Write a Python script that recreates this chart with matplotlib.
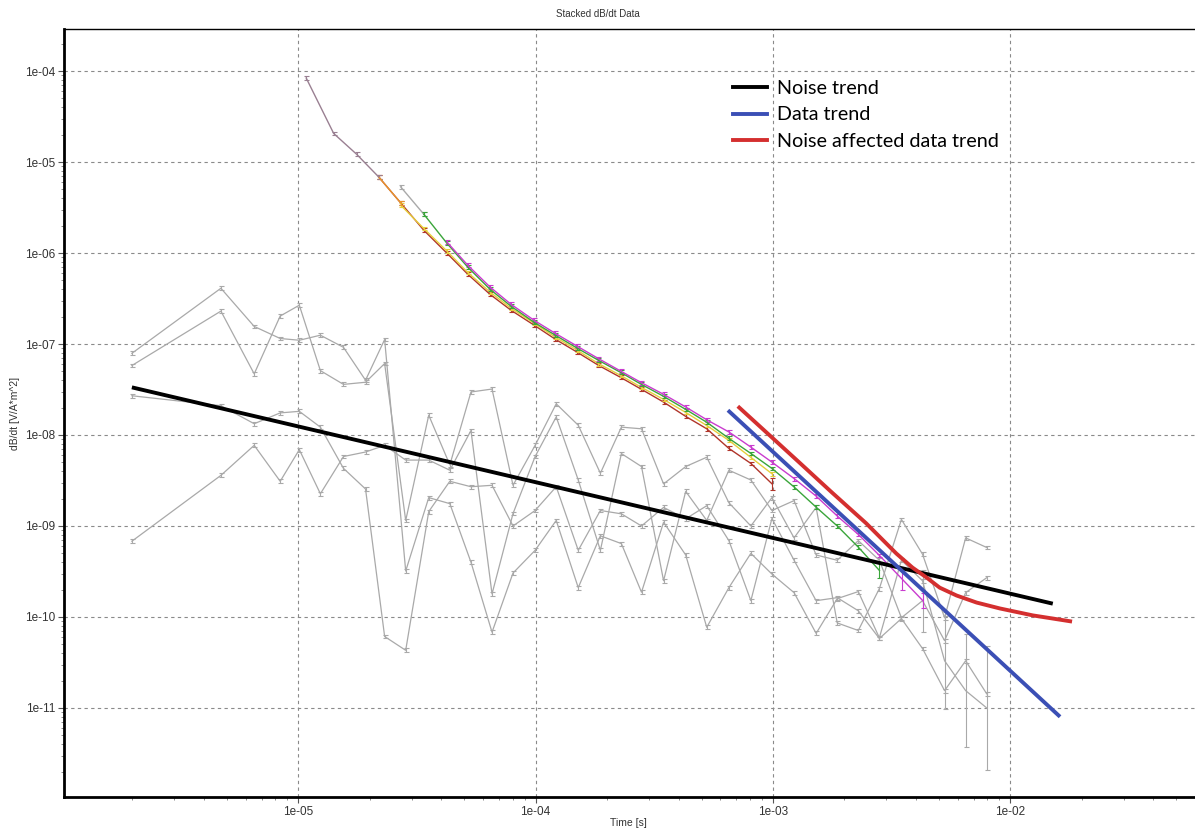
import numpy as np
import matplotlib
matplotlib.use("Agg")
import matplotlib.pyplot as plt
from matplotlib.lines import Line2D
from matplotlib.ticker import LogLocator, FixedLocator, FuncFormatter, NullFormatter

# gate times of the four noise soundings [s]
noise_times = [1.99e-6, 4.72e-6, 6.52e-6, 8.39e-6, 1.01e-5, 1.239e-5, 1.55e-5, 1.92e-5,
               2.311e-5, 2.835e-5, 3.545e-5, 4.35e-5, 5.34e-5, 6.55e-5, 8.03e-5, 9.95e-5,
               1.221e-4, 1.512e-4, 1.874e-4, 2.298e-4, 2.793e-4, 3.46e-4, 4.288e-4, 5.26e-4,
               6.52e-4, 8.07e-4, 9.9e-4, 1.227e-3, 1.52e-3, 1.865e-3, 2.288e-3, 2.807e-3,
               3.477e-3, 4.266e-3, 5.285e-3, 6.483e-3, 7.955e-3]

noise_a = [7.9e-8, 4.1e-7, 1.56e-7, 1.15e-7, 1.10e-7, 1.25e-7, 9.2e-8, 4.0e-8, 1.12e-7,
           3.2e-10, 2.05e-9, 1.76e-9, 4.0e-10, 6.8e-11, 3.04e-10, 5.4e-10, 1.15e-9, 2.1e-10,
           7.8e-10, 6.4e-10, 1.87e-10, 1.10e-9, 4.8e-10, 7.7e-11, 2.1e-10, 5.0e-10, 2.96e-10,
           1.85e-10, 6.6e-11, 1.59e-10, 1.90e-10, 5.9e-11, 4.2e-10, 2.5e-10, 3.3e-11,
           1.55e-11, 1.0e-11]
noise_b = [5.8e-8, 2.3e-7, 4.7e-8, 2.03e-7, 2.67e-7, 5.1e-8, 3.6e-8, 3.8e-8, 6.1e-8,
           1.15e-9, 1.65e-8, 4.7e-9, 2.97e-8, 3.2e-8, 2.8e-9, 7.7e-9, 2.2e-8, 1.28e-8,
           3.8e-9, 1.22e-8, 1.17e-8, 2.9e-9, 4.5e-9, 5.7e-9, 1.8e-9, 1.0e-9, 2.05e-9,
           7.4e-10, 1.6e-9, 8.6e-11, 7.1e-11, 2.05e-10, 1.18e-9, 4.9e-10, 9.8e-11,
           7.4e-10, 5.8e-10]
noise_c = [2.7e-8, 2.1e-8, 1.33e-8, 1.75e-8, 1.82e-8, 1.22e-8, 4.3e-9, 2.55e-9, 6.1e-11,
           4.3e-11, 1.44e-9, 3.1e-9, 2.7e-9, 2.8e-9, 1.0e-9, 1.48e-9, 2.7e-9, 5.4e-10,
           1.48e-9, 1.36e-9, 1.0e-9, 1.6e-9, 1.2e-9, 1.67e-9, 6.9e-10, 1.51e-10, 1.21e-9,
           4.2e-10, 1.51e-10, 1.63e-10, 1.17e-10, 5.8e-11, 9.6e-11, 4.5e-11, 1.55e-11,
           3.3e-11, 1.43e-11]
noise_d = [6.8e-10, 3.6e-9, 7.7e-9, 3.1e-9, 6.9e-9, 2.26e-9, 5.8e-9, 6.5e-9, 7.7e-9,
           5.3e-9, 5.3e-9, 4.1e-9, 1.12e-8, 1.79e-10, 1.37e-9, 5.8e-9, 1.58e-8, 3.2e-9,
           5.4e-10, 6.25e-9, 4.5e-9, 2.5e-10, 2.4e-9, 1.15e-9, 4.1e-9, 3.2e-9, 1.48e-9,
           1.9e-9, 4.8e-10, 4.2e-10, 6.9e-10, 4.2e-10, 9.8e-11, 1.51e-10, 5.5e-11,
           1.85e-10, 2.7e-10]
# wide error bars on the late gates: {gate index: relative error}
noise_big_err = {"a": {34: 2.4, 35: 3.2, 36: 3.8}, "d": {33: 1.2}}

# gate times of the stacked decays [s]
decay_times = [1.08e-5, 1.41e-5, 1.76e-5, 2.18e-5, 2.70e-5, 3.38e-5, 4.23e-5, 5.18e-5,
               6.42e-5, 7.88e-5, 9.86e-5, 1.21e-4, 1.50e-4, 1.84e-4, 2.28e-4, 2.79e-4,
               3.46e-4, 4.29e-4, 5.26e-4, 6.52e-4, 8.07e-4, 9.90e-4, 1.23e-3, 1.52e-3,
               1.87e-3, 2.29e-3, 2.81e-3, 3.48e-3, 4.27e-3]

# (first gate index, values)
decay_early = (0, [8.38e-5, 2.06e-5, 1.22e-5, 6.87e-6])
decay_gray = (4, [5.34e-6, 2.67e-6])
decay_orange = (3, [6.87e-6, 3.56e-6])
decay_darkred = (3, [6.87e-6, 3.56e-6, 1.78e-6, 9.95e-7, 5.84e-7, 3.52e-7, 2.35e-7, 1.61e-7,
                     1.13e-7, 8.10e-8, 5.83e-8, 4.30e-8, 3.18e-8, 2.30e-8, 1.60e-8, 1.17e-8,
                     7.12e-9, 4.87e-9, 2.91e-9])
decay_yellow = (4, [3.36e-6, 1.86e-6, 1.05e-6, 6.10e-7, 3.73e-7, 2.47e-7, 1.69e-7, 1.19e-7,
                    8.52e-8, 6.09e-8, 4.52e-8, 3.34e-8, 2.46e-8, 1.77e-8, 1.27e-8, 8.72e-9,
                    5.67e-9, 3.75e-9])
decay_green = (5, [2.67e-6, 1.28e-6, 6.98e-7, 4.00e-7, 2.60e-7, 1.73e-7, 1.25e-7, 8.97e-8,
                   6.62e-8, 4.88e-8, 3.60e-8, 2.66e-8, 1.91e-8, 1.38e-8, 9.18e-9, 6.27e-9,
                   4.29e-9, 2.67e-9, 1.61e-9, 9.95e-10, 5.84e-10, 3.24e-10])
decay_magenta = (6, [1.32e-6, 7.34e-7, 4.24e-7, 2.73e-7, 1.82e-7, 1.31e-7, 9.43e-8, 6.91e-8,
                     5.05e-8, 3.76e-8, 2.80e-8, 2.03e-8, 1.47e-8, 1.08e-8, 7.36e-9, 5.03e-9,
                     3.31e-9, 2.13e-9, 1.28e-9, 8.06e-10, 4.74e-10, 2.65e-10, 1.52e-10])
decay_big_err = {"darkred": {18: 0.16}, "green": {21: 0.22}, "magenta": {21: 0.35, 22: 0.22}}

# trend lines
noise_trend_t = [1.99e-6, 1.51e-2]
noise_trend_v = [3.34e-8, 1.40e-10]
data_trend_t = [6.46e-4, 1.62e-2]
data_trend_v = [1.87e-8, 8.0e-12]
affected_t = [7.11e-4, 1.29e-3, 1.77e-3, 2.47e-3, 3.31e-3, 3.87e-3, 4.44e-3, 5.04e-3,
              5.94e-3, 7.21e-3, 9.04e-3, 1.245e-2, 1.82e-2]
affected_v = [2.07e-8, 5.0e-9, 2.34e-9, 1.07e-9, 4.98e-10, 3.49e-10, 2.71e-10, 2.10e-10,
              1.72e-10, 1.44e-10, 1.24e-10, 1.04e-10, 8.9e-11]

# labelled decades
x_ticks = [1e-5, 1e-4, 1e-3, 1e-2]
y_ticks = [1e-11, 1e-10, 1e-9, 1e-8, 1e-7, 1e-6, 1e-5, 1e-4]

GRAY = "#a9a9a9"
SMALL_ERR = 0.05


def draw_sounding(ax, t, v, color, big=None, lw=0.9, zorder=2):
    t = np.asarray(t, dtype=float)
    v = np.asarray(v, dtype=float)
    rel = np.full(len(v), SMALL_ERR)
    for i, e in (big or {}).items():
        rel[i] = e
    f = 1.0 + rel
    ax.errorbar(t, v, yerr=[v - v / f, v * f - v], color=color, lw=lw,
                elinewidth=0.8, capsize=1.8, capthick=0.8, zorder=zorder)


def draw_decay(ax, series, color, big=None, zorder=3):
    start, vals = series
    t = decay_times[start:start + len(vals)]
    draw_sounding(ax, t, vals, color, big=big, lw=1.0, zorder=zorder)


fig = plt.figure(figsize=(11.95, 8.31), dpi=100)
ax = fig.add_axes([64 / 1195, 34 / 831, 1 - 64 / 1195, 768 / 831])
ax.set_xscale("log")
ax.set_yscale("log")
ax.set_xlim(1.03e-6, 6.0e-2)
ax.set_ylim(1.05e-12, 2.9e-4)

# noise soundings
draw_sounding(ax, noise_times, noise_a, GRAY, big=noise_big_err["a"])
draw_sounding(ax, noise_times, noise_b, GRAY)
draw_sounding(ax, noise_times, noise_c, GRAY)
draw_sounding(ax, noise_times, noise_d, GRAY, big=noise_big_err["d"])

# stacked decays
draw_decay(ax, decay_gray, GRAY)
draw_decay(ax, decay_darkred, "#b0352a", big=decay_big_err["darkred"], zorder=3)
draw_decay(ax, decay_yellow, "#e6cf3c", zorder=3.1)
draw_decay(ax, decay_green, "#3aa53a", big=decay_big_err["green"], zorder=3.2)
draw_decay(ax, decay_magenta, "#c93ccf", big=decay_big_err["magenta"], zorder=3.3)
draw_decay(ax, decay_orange, "#e8962e", zorder=3.35)
draw_decay(ax, decay_early, "#9a8092", zorder=3.4)

# trends
ax.plot(noise_trend_t, noise_trend_v, color="black", lw=2.8, zorder=5, solid_capstyle="butt")
ax.plot(data_trend_t, data_trend_v, color="#3b4fb5", lw=2.8, zorder=5, solid_capstyle="butt")
ax.plot(affected_t, affected_v, color="#d42f2f", lw=2.8, zorder=5, solid_capstyle="butt")

# axes styling
fmt = FuncFormatter(lambda v, pos: f"{v:.0e}")
ax.xaxis.set_major_locator(FixedLocator(x_ticks))
ax.yaxis.set_major_locator(FixedLocator(y_ticks))
ax.xaxis.set_minor_locator(LogLocator(base=10, subs=np.arange(2, 10), numticks=20))
ax.yaxis.set_minor_locator(LogLocator(base=10, subs=np.arange(2, 10), numticks=20))
ax.xaxis.set_major_formatter(fmt)
ax.yaxis.set_major_formatter(fmt)
ax.xaxis.set_minor_formatter(NullFormatter())
ax.yaxis.set_minor_formatter(NullFormatter())
ax.tick_params(which="major", direction="out", length=4, width=0.8, color="#555555",
               labelsize=8.5, labelcolor="#333333", pad=2.5)
ax.tick_params(which="minor", direction="out", length=2.5, width=0.6, color="#777777")
for lab in ax.get_xticklabels() + ax.get_yticklabels():
    lab.set_family("Liberation Sans")

ax.grid(True, which="major", ls=(0, (3, 3)), color="#8a8a8a", lw=0.8, zorder=0)
ax.set_axisbelow(True)
ax.spines["right"].set_visible(False)
ax.spines["left"].set_linewidth(2.0)
ax.spines["bottom"].set_linewidth(2.0)
ax.spines["top"].set_linewidth(1.0)

fig.text(0.5, 1 - 14 / 831, "Stacked dB/dt Data", ha="center", va="center",
         fontsize=7, family="Liberation Sans", color="#333333")
fig.text(628 / 1195, 1 - 823 / 831, "Time [s]", ha="center", va="center",
         fontsize=7.5, family="Liberation Sans", color="#333333")
fig.text(15 / 1195, 1 - 413 / 831, "dB/dt [V/A*m^2]", ha="center", va="center",
         rotation=90, fontsize=7.5, family="Liberation Sans", color="#333333")

handles = [Line2D([], [], color="black", lw=2.8),
           Line2D([], [], color="#3b4fb5", lw=2.8),
           Line2D([], [], color="#d42f2f", lw=2.8)]
labels = ["Noise trend", "Data trend", "Noise affected data trend"]
ax.legend(handles, labels, loc="upper left", bbox_to_anchor=(733 / 1195, 1 - 80 / 831),
          bbox_transform=fig.transFigure, frameon=False, borderpad=0, borderaxespad=0,
          handlelength=1.7, handletextpad=0.55, labelspacing=0.48,
          prop={"family": "Lato", "size": 14.2})

fig.savefig("out.png", dpi=100)
